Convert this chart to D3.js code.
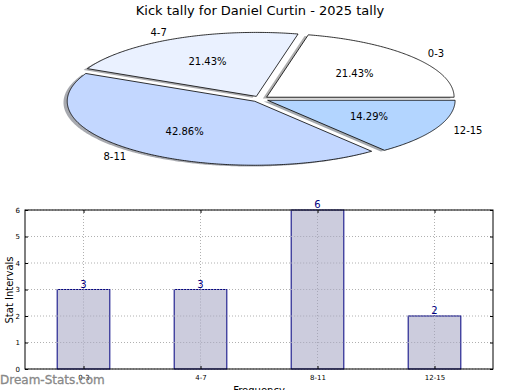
<!DOCTYPE html>
<html><head><meta charset="utf-8">
<script src="https://cdn.jsdelivr.net/npm/d3@7"></script>
<style>body{margin:0;background:#fff}svg{display:block;font-family:"DejaVu Sans",sans-serif}</style>
</head><body>
<svg id="c" width="520" height="390"></svg>
<script>
const title = "Kick tally for Daniel Curtin - 2025 tally";
const categories = ["0-3", "4-7", "8-11", "12-15"];
const values = [3, 3, 6, 2];
const sliceColors = ["#ffffff", "#eaf1ff", "#c3d7ff", "#b3d5ff"];
const yTicks = [0, 1, 2, 3, 4, 5, 6];
const xLabel = "Frequency";
const yLabel = "Stat Intervals";
const watermark = "Dream-Stats.com";

const svg = d3.select("#c");

svg.append("text").attr("x", 260).attr("y", 15).attr("text-anchor", "middle")
  .attr("font-size", 13).text(title);

// ---- Pie (elliptical, exploded, shadowed) ----
const cx = 260, cy = 99, rx = 187.5, ry = 64, explode = 0.045;
const total = d3.sum(values);
const pie = d3.pie().sort(null).value(d => d).startAngle(0).endAngle(2 * Math.PI);
const arcs = pie(values);
const sx = d3.scaleLinear().domain([-1, 1]).range([-rx, rx]);
const sy = d3.scaleLinear().domain([-1, 1]).range([ry, -ry]);

function wedgePath(a0, a1, ox, oy) {
  const n = Math.max(8, Math.ceil((a1 - a0) / 0.01));
  const pts = [[ox, oy]];
  d3.range(n + 1).forEach(i => {
    const t = a0 + (a1 - a0) * i / n;
    pts.push([ox + sx(Math.cos(t)), oy + sy(Math.sin(t))]);
  });
  return d3.line()(pts) + "Z";
}

const gPie = svg.append("g");
const wedges = arcs.map((a, i) => {
  const mid = (a.startAngle + a.endAngle) / 2;
  const ox = cx + sx(explode * Math.cos(mid));
  const oy = cy + sy(explode * Math.sin(mid));
  return {a, i, mid, ox, oy};
});
wedges.forEach(w => {
  const c = d3.rgb(sliceColors[w.i]);
  const sc = d3.rgb(c.r * 0.3, c.g * 0.3, c.b * 0.3);
  gPie.append("path").attr("d", wedgePath(w.a.startAngle, w.a.endAngle, w.ox - 0.02 * rx, w.oy + 0.02 * ry))
    .attr("fill", sc.formatHex()).attr("fill-opacity", 0.45).attr("stroke", "none");
});
wedges.forEach(w => {
  gPie.append("path").attr("d", wedgePath(w.a.startAngle, w.a.endAngle, w.ox, w.oy))
    .attr("fill", sliceColors[w.i]).attr("stroke", "#000").attr("stroke-width", 0.8)
    .attr("stroke-linejoin", "miter");
});
wedges.forEach(w => {
  const c = Math.cos(w.mid), s = Math.sin(w.mid);
  gPie.append("text")
    .attr("x", w.ox + sx(1.1 * c)).attr("y", w.oy + sy(1.1 * s))
    .attr("text-anchor", c > 0 ? "start" : "end").attr("dominant-baseline", "central")
    .attr("font-size", 10).text(categories[w.i]);
  gPie.append("text")
    .attr("x", w.ox + sx(0.6 * c)).attr("y", w.oy + sy(0.6 * s))
    .attr("text-anchor", "middle").attr("dominant-baseline", "central")
    .attr("font-size", 10).text((values[w.i] / total * 100).toFixed(2) + "%");
});

// ---- Bar chart ----
const L = 25, R = 493, T = 210, B = 369;
const x = d3.scaleLinear().domain([-0.5, categories.length - 0.5]).range([L, R]);
const y = d3.scaleLinear().domain([0, 6]).range([B, T]);
const g = svg.append("g");
yTicks.forEach(t => {
  g.append("line").attr("x1", L).attr("x2", R).attr("y1", y(t)).attr("y2", y(t))
    .attr("stroke", "#b0b0b0").attr("stroke-width", 1).attr("stroke-dasharray", "1,2");
});
categories.forEach((c, i) => {
  g.append("line").attr("x1", x(i)).attr("x2", x(i)).attr("y1", T).attr("y2", B)
    .attr("stroke", "#b0b0b0").attr("stroke-width", 1).attr("stroke-dasharray", "1,2");
});
const bw = 0.45;
g.selectAll("rect.bar").data(values).join("rect")
  .attr("x", (d, i) => x(i - bw / 2)).attr("width", x(bw) - x(0))
  .attr("y", d => y(d)).attr("height", d => y(0) - y(d))
  .attr("fill", "#ccccdd").attr("stroke", "#000080").attr("stroke-width", 1);
categories.forEach((c, i) => {
  g.append("line").attr("x1", x(i)).attr("x2", x(i)).attr("y1", y(values[i])).attr("y2", B)
    .attr("stroke", "#a8a8b8").attr("stroke-width", 1).attr("stroke-dasharray", "1,2");
});
yTicks.forEach(t => {
  if (t > 0) values.forEach((v, i) => {
    if (v >= t) g.append("line").attr("x1", x(i - bw / 2)).attr("x2", x(i + bw / 2)).attr("y1", y(t)).attr("y2", y(t))
      .attr("stroke", "#a8a8b8").attr("stroke-width", 1).attr("stroke-dasharray", "1,2");
  });
});
g.selectAll("text.val").data(values).join("text")
  .attr("x", (d, i) => x(i)).attr("y", d => y(d) - 2)
  .attr("text-anchor", "middle").attr("font-size", 10).attr("fill", "#000080").text(d => d);
g.append("rect").attr("x", L).attr("y", T).attr("width", R - L).attr("height", B - T)
  .attr("fill", "none").attr("stroke", "#000").attr("stroke-width", 1);
const yAxis = d3.axisLeft(y).tickValues(yTicks).tickSize(-3).tickPadding(5).tickFormat(d3.format("d"));
const ya = g.append("g").attr("transform", `translate(${L},0)`).call(yAxis);
const yAxisR = d3.axisRight(y).tickValues(yTicks).tickSize(-3).tickFormat("");
const yar = g.append("g").attr("transform", `translate(${R},0)`).call(yAxisR);
const xAxis = d3.axisBottom(x).tickValues(d3.range(categories.length)).tickSize(-3).tickPadding(6)
  .tickFormat(i => categories[i]);
const xa = g.append("g").attr("transform", `translate(0,${B})`).call(xAxis);
const xAxisT = d3.axisTop(x).tickValues(d3.range(categories.length)).tickSize(-3).tickFormat("");
const xat = g.append("g").attr("transform", `translate(0,${T})`).call(xAxisT);
[ya, yar, xa, xat].forEach(a => {
  a.select(".domain").remove();
  a.selectAll("text").attr("font-size", 7).attr("font-family", "DejaVu Sans").attr("fill", "#000");
  a.selectAll("line").attr("stroke", "#000");
});
svg.append("text").attr("transform", "translate(13,290) rotate(-90)").attr("text-anchor", "middle")
  .attr("font-size", 10).text(yLabel);
svg.append("text").attr("x", 259).attr("y", 394).attr("text-anchor", "middle")
  .attr("font-size", 10).text(xLabel);
svg.append("text").attr("x", 0).attr("y", 384).attr("font-size", 12)
  .attr("fill", "#888888").attr("stroke", "#888888").attr("stroke-width", 0.3).text(watermark);
</script>
</body></html>
